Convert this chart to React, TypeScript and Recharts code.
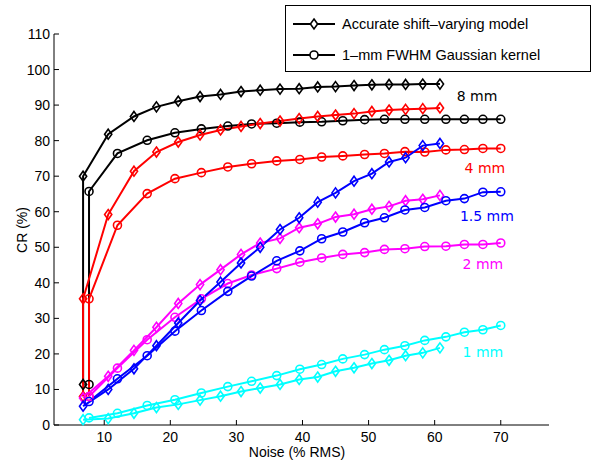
import React from 'react';
import { LineChart, Line, XAxis, YAxis, ReferenceDot } from 'recharts';

// noise levels (% RMS) of the two reconstruction models
const diamondNoise = [6.8, 10.6, 14.5, 17.9, 21.2, 24.5, 27.6, 30.7, 33.6, 36.6, 39.5, 42.3, 45.0, 47.8, 50.5, 53.1, 55.6, 58.2, 60.8];
const circleNoise = [7.7, 12.0, 16.5, 20.7, 24.7, 28.7, 32.3, 36.1, 39.6, 42.9, 46.1, 49.4, 52.4, 55.5, 58.5, 61.7, 64.5, 67.3, 70.0];

// 8 mm and 4 mm curves have an extra low point at the first noise level
const acc8 = [11.4, 70.0, 81.8, 86.8, 89.5, 91.1, 92.4, 93.0, 93.8, 94.2, 94.5, 94.6, 95.1, 95.2, 95.5, 95.7, 95.8, 95.8, 95.9, 95.9];
const gau8 = [11.4, 65.7, 76.4, 80.1, 82.2, 83.3, 84.1, 84.7, 84.9, 85.2, 85.3, 85.6, 85.9, 86.0, 86.0, 86.0, 86.0, 86.0, 86.0, 86.0];
const acc4 = [8.0, 35.5, 59.2, 71.4, 76.8, 79.6, 81.6, 83.0, 84.0, 84.8, 85.5, 86.2, 86.8, 87.2, 87.6, 88.2, 88.6, 88.8, 89.0, 89.2];
const gau4 = [8.0, 35.5, 56.2, 65.1, 69.3, 71.0, 72.6, 73.5, 74.3, 74.7, 75.4, 75.7, 76.1, 76.4, 76.9, 76.8, 77.4, 77.5, 77.8, 77.8];
const acc15 = [5.3, 10.0, 15.8, 22.3, 28.7, 35.0, 40.2, 45.6, 50.0, 55.0, 58.3, 62.7, 65.3, 68.6, 70.7, 74.0, 75.2, 78.6, 79.2];
const gau15 = [6.6, 13.0, 19.5, 26.4, 32.2, 37.6, 41.9, 46.2, 49.0, 52.4, 54.3, 56.9, 58.3, 60.5, 61.2, 63.1, 63.7, 65.5, 65.6];
const acc2 = [7.6, 13.7, 21.0, 27.5, 34.2, 39.5, 43.7, 48.0, 51.2, 52.5, 55.5, 56.6, 58.5, 59.3, 60.7, 61.5, 63.1, 63.5, 64.6];
const gau2 = [8.0, 16.0, 24.0, 30.3, 35.5, 39.8, 42.2, 44.0, 45.8, 47.0, 48.0, 48.5, 49.4, 49.6, 50.2, 50.3, 50.8, 50.8, 51.2];
const acc1 = [1.5, 1.8, 3.3, 4.9, 5.8, 7.0, 8.1, 9.4, 10.4, 11.4, 12.8, 13.5, 15.1, 16.1, 17.3, 18.2, 19.5, 20.3, 21.7];
const gau1 = [2.0, 3.3, 5.5, 7.1, 9.0, 10.8, 12.3, 13.9, 15.7, 17.0, 18.6, 19.8, 21.2, 22.3, 23.8, 24.8, 26.1, 26.8, 28.0];

const xTicks = [10, 20, 30, 40, 50, 60, 70];
const yTicks = [0, 10, 20, 30, 40, 50, 60, 70, 80, 90, 100, 110];

const sizeLabels = ['8 mm', '4 mm', '1.5 mm', '2 mm', '1 mm'];
const sizeLabelX = [66.4, 67.6, 67.9, 67.3, 67.3];
const sizeLabelY = [92.6, 72.4, 58.8, 45.2, 20.6];
const sizeColors = ['#000000', '#ff0000', '#0000ff', '#ff00ff', '#00ffff'];

const legendLabels = ['Accurate shift\u2013varying model', '1\u2013mm FWHM Gaussian kernel'];

const toPoints = (noise: number[], cr: number[]) => {
  const xs = cr.length > noise.length ? [noise[0], ...noise] : noise;
  return cr.map((v, i) => ({ x: xs[i], y: v }));
};

// drawing order: later series sit on top
const series = [
  { name: 'acc8', data: toPoints(diamondNoise, acc8), color: sizeColors[0], shape: 'diamond' },
  { name: 'gau8', data: toPoints(circleNoise, gau8), color: sizeColors[0], shape: 'circle' },
  { name: 'acc4', data: toPoints(diamondNoise, acc4), color: sizeColors[1], shape: 'diamond' },
  { name: 'gau4', data: toPoints(circleNoise, gau4), color: sizeColors[1], shape: 'circle' },
  { name: 'acc2', data: toPoints(diamondNoise, acc2), color: sizeColors[3], shape: 'diamond' },
  { name: 'gau2', data: toPoints(circleNoise, gau2), color: sizeColors[3], shape: 'circle' },
  { name: 'acc15', data: toPoints(diamondNoise, acc15), color: sizeColors[2], shape: 'diamond' },
  { name: 'gau15', data: toPoints(circleNoise, gau15), color: sizeColors[2], shape: 'circle' },
  { name: 'acc1', data: toPoints(diamondNoise, acc1), color: sizeColors[4], shape: 'diamond' },
  { name: 'gau1', data: toPoints(circleNoise, gau1), color: sizeColors[4], shape: 'circle' },
];

const FONT = '"Liberation Sans", Arial, sans-serif';

const diamondPath = (cx: number, cy: number) =>
  `M${cx},${cy - 5} L${cx + 3.6},${cy} L${cx},${cy + 5} L${cx - 3.6},${cy} Z`;

const makeDot = (color: string, shape: string) => (props: any) => {
  const { cx, cy, index } = props;
  if (cx == null || cy == null) return <g key={`e-${index}`} />;
  if (shape === 'diamond') {
    return <path key={`d-${index}`} d={diamondPath(cx, cy)} fill="none" stroke={color} strokeWidth={1.6} />;
  }
  return <circle key={`c-${index}`} cx={cx} cy={cy} r={4} fill="none" stroke={color} strokeWidth={1.6} />;
};

const XTick = (props: any) => {
  const { x, y, payload } = props;
  return (
    <g>
      <line x1={x} y1={y} x2={x} y2={y - 5} stroke="#000" />
      <text x={x} y={y + 17} textAnchor="middle" fontSize={14} fontFamily={FONT} fill="#000">
        {payload.value}
      </text>
    </g>
  );
};

const YTick = (props: any) => {
  const { x, y, payload } = props;
  return (
    <g>
      <line x1={x} y1={y} x2={x + 5} y2={y} stroke="#000" />
      <text x={x - 4} y={y + 5} textAnchor="end" fontSize={14} fontFamily={FONT} fill="#000">
        {payload.value}
      </text>
    </g>
  );
};

function LegendBox() {
  return (
    <div
      style={{
        position: 'absolute', left: 285, top: 5, width: 306, height: 67,
        border: '1px solid #000', background: '#fff', boxSizing: 'border-box',
      }}
    >
      {legendLabels.map((label, i) => (
        <div key={label} style={{ position: 'absolute', left: 0, top: i === 0 ? 5 : 36, height: 26, display: 'flex', alignItems: 'center' }}>
          <svg width={52} height={26}>
            <line x1={7} y1={13} x2={49} y2={13} stroke="#000" strokeWidth={2} />
            {i === 0 ? (
              <path d={diamondPath(28, 13)} fill="#fff" stroke="#000" strokeWidth={1.6} />
            ) : (
              <circle cx={28} cy={13} r={4} fill="#fff" stroke="#000" strokeWidth={1.6} />
            )}
          </svg>
          <span style={{ fontFamily: FONT, fontSize: 14.5, color: '#000', marginLeft: 4, whiteSpace: 'nowrap' }}>{label}</span>
        </div>
      ))}
    </div>
  );
}

export default function App() {
  return (
    <div style={{ position: 'absolute', left: 0, top: 0, width: 602, height: 469, background: '#fff' }}>
      <LineChart width={602} height={469} margin={{ top: 34, right: 53, bottom: 43, left: 53 }}>
        <XAxis
          type="number"
          dataKey="x"
          domain={[2.4, 77.3]}
          ticks={xTicks}
          allowDataOverflow
          height={1}
          tickSize={0}
          tickMargin={0}
          tickLine={false}
          tick={<XTick />}
          axisLine={{ stroke: '#000' }}
        />
        <YAxis
          type="number"
          dataKey="y"
          domain={[0, 110]}
          ticks={yTicks}
          width={1}
          tickSize={0}
          tickMargin={0}
          tickLine={false}
          tick={<YTick />}
          axisLine={{ stroke: '#000' }}
        />
        {series.map((s) => (
          <Line
            key={s.name}
            data={s.data}
            dataKey="y"
            type="linear"
            stroke={s.color}
            strokeWidth={2}
            dot={makeDot(s.color, s.shape)}
            activeDot={false}
            isAnimationActive={false}
          />
        ))}
        {sizeLabels.map((t, i) => (
          <ReferenceDot
            key={t}
            x={sizeLabelX[i]}
            y={sizeLabelY[i]}
            r={0}
            stroke="none"
            fill="none"
            label={{ value: t, position: 'center', fill: sizeColors[i], fontSize: 14, fontFamily: '"DejaVu Sans", sans-serif' }}
          />
        ))}
      </LineChart>
      <div style={{ position: 'absolute', left: 22, top: 230, transform: 'translate(-50%, -50%) rotate(-90deg)', fontFamily: FONT, fontSize: 14, whiteSpace: 'nowrap' }}>
        CR (%)
      </div>
      <div style={{ position: 'absolute', left: 297, top: 452, transform: 'translate(-50%, -50%)', fontFamily: FONT, fontSize: 14, whiteSpace: 'nowrap' }}>
        Noise (% RMS)
      </div>
      <LegendBox />
    </div>
  );
}
